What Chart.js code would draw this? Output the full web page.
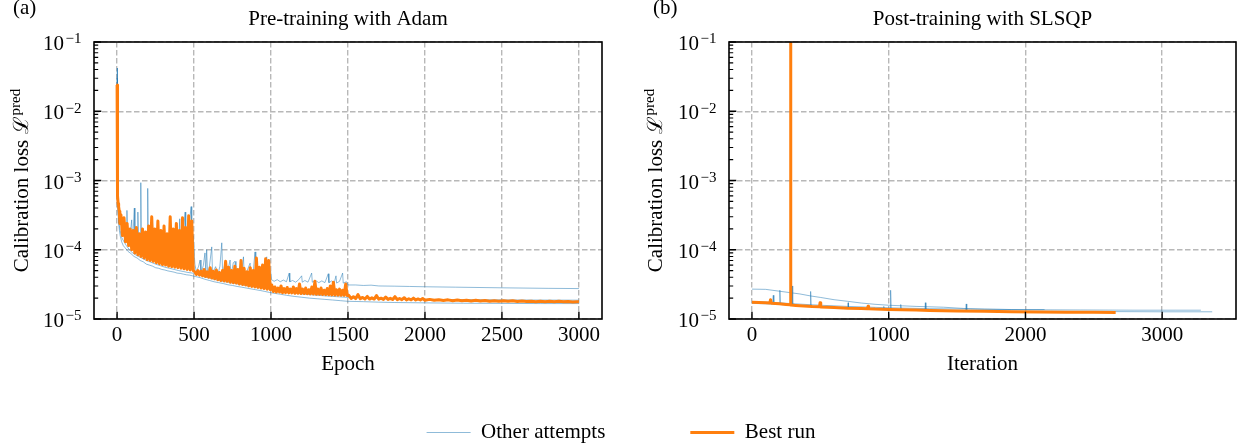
<!DOCTYPE html>
<html>
<head>
<meta charset="utf-8">
<script src="https://cdn.jsdelivr.net/npm/chart.js@4/dist/chart.umd.min.js"></script>
<style>
html,body{margin:0;padding:0;background:#fff;}
#wrap{position:relative;width:1242px;height:448px;overflow:hidden;background:#fff;}
canvas{position:absolute;}
</style>
</head>
<body>
<div id="wrap">
<canvas id="panelA" width="621" height="400" style="left:0;top:0;width:621px;height:400px"></canvas>
<canvas id="panelB" width="621" height="400" style="left:621px;top:0;width:621px;height:400px"></canvas>
<canvas id="legendC" width="1242" height="111" style="left:0;top:337px;width:1242px;height:111px"></canvas>
</div>
<script>
// ---------------- DATA ----------------
const panelTitles = ['Pre-training with Adam', 'Post-training with SLSQP'];
const panelTags = ['(a)', '(b)'];
const xTitles = ['Epoch', 'Iteration'];
const yTitleText = 'Calibration loss ';
const yTitleSymbol = '\u2112';
const yTitleSup = 'pred';
const seriesLabels = ['Other attempts', 'Best run'];

const xTicksA = [0, 500, 1000, 1500, 2000, 2500, 3000];
const xTickLabelsA = ['0', '500', '1000', '1500', '2000', '2500', '3000'];
const xTicksB = [0, 1000, 2000, 3000];
const xTickLabelsB = ['0', '1000', '2000', '3000'];
const yDecades = [1e-5, 1e-4, 1e-3, 1e-2, 1e-1];
const yTickBase = '10';
const yTickExp = ['\u22125', '\u22124', '\u22123', '\u22122', '\u22121'];
const yMinorSubs = [2, 3, 4, 5, 6, 7, 8, 9];

// Panel (a): best run, [epoch, loss]
const bestRunA = [
[0,2.4e-2],[1,6.0e-3],[2,2.2e-3],[3,1.1e-3],[5,6.0e-4],[7,4.6e-4],[10,4.2e-4],[14,3.6e-4],[18,2.4e-4],
[25,3.2e-4],[35,1.6e-4],[45,2.9e-4],[55,1.3e-4],[65,2.4e-4],[75,1.15e-4],[85,2.0e-4],[95,1.0e-4],[105,1.9e-4],[115,9.0e-5],
[125,2.1e-4],[135,8.5e-5],[145,1.7e-4],[155,8.0e-5],[165,2.0e-4],[175,7.6e-5],[185,1.8e-4],[195,7.2e-5],[205,2.2e-4],[215,7.0e-5],
[225,3.0e-4],[235,6.8e-5],[245,2.0e-4],[255,6.5e-5],[265,2.6e-4],[275,6.3e-5],[285,1.9e-4],[295,6.1e-5],[305,2.2e-4],[315,6.0e-5],
[325,1.7e-4],[335,5.8e-5],[345,3.0e-4],[355,5.7e-5],[365,2.0e-4],[375,5.6e-5],[385,2.4e-4],[395,5.5e-5],[405,1.9e-4],[415,5.4e-5],
[425,2.9e-4],[435,5.3e-5],[445,2.1e-4],[455,5.2e-5],[465,3.1e-4],[475,5.1e-5],[485,2.6e-4],[495,5.0e-5],
[505,4.8e-5],[515,4.4e-5],[525,5.0e-5],[535,4.3e-5],[545,4.9e-5],[555,4.2e-5],[565,5.2e-5],[575,4.1e-5],[585,4.8e-5],[595,4.0e-5],
[605,5.5e-5],[615,3.9e-5],[625,4.9e-5],[635,3.8e-5],[645,5.1e-5],[655,3.7e-5],[665,4.7e-5],[675,3.6e-5],[685,5.0e-5],[695,3.55e-5],
[705,6.8e-5],[715,3.5e-5],[725,5.6e-5],[735,3.4e-5],[745,5.0e-5],[755,3.35e-5],[765,5.8e-5],[775,3.3e-5],[785,5.2e-5],[795,3.2e-5],
[805,7.0e-5],[815,3.15e-5],[825,5.4e-5],[835,3.1e-5],[845,4.8e-5],[855,3.0e-5],[865,5.5e-5],[875,2.95e-5],[885,5.0e-5],[895,2.9e-5],
[905,7.6e-5],[915,2.85e-5],[925,5.6e-5],[935,2.8e-5],[945,6.0e-5],[955,2.75e-5],[965,7.4e-5],[975,2.7e-5],[985,7.0e-5],[995,2.65e-5],
[1005,3.1e-5],[1015,2.5e-5],[1025,2.9e-5],[1035,2.45e-5],[1045,2.8e-5],[1055,2.45e-5],[1065,3.0e-5],[1075,2.4e-5],[1085,2.75e-5],[1095,2.4e-5],
[1105,2.85e-5],[1115,2.38e-5],[1125,2.7e-5],[1135,2.38e-5],[1145,2.9e-5],[1155,2.36e-5],[1165,2.75e-5],[1175,2.35e-5],[1185,3.2e-5],[1195,2.34e-5],
[1205,2.7e-5],[1215,2.33e-5],[1225,2.8e-5],[1235,2.32e-5],[1245,2.65e-5],[1255,2.3e-5],[1265,2.9e-5],[1275,2.3e-5],[1285,3.5e-5],[1295,2.28e-5],
[1305,2.7e-5],[1315,2.28e-5],[1325,2.8e-5],[1335,2.26e-5],[1345,2.6e-5],[1355,2.25e-5],[1365,2.75e-5],[1375,2.24e-5],[1385,3.0e-5],[1395,2.23e-5],
[1405,3.4e-5],[1415,2.22e-5],[1425,2.65e-5],[1435,2.21e-5],[1445,2.7e-5],[1455,2.2e-5],[1465,2.6e-5],[1475,2.19e-5],[1485,3.2e-5],[1495,2.18e-5],
[1505,2.2e-5],[1520,1.98e-5],[1535,2.1e-5],[1550,1.97e-5],[1565,2.25e-5],[1580,1.96e-5],[1595,2.05e-5],[1610,1.95e-5],[1625,2.12e-5],[1640,1.94e-5],
[1655,2.02e-5],[1670,1.94e-5],[1685,2.18e-5],[1700,1.93e-5],[1715,2.0e-5],[1730,1.92e-5],[1745,2.08e-5],[1760,1.92e-5],[1775,1.99e-5],[1790,1.91e-5],
[1805,2.1e-5],[1820,1.9e-5],[1835,1.98e-5],[1850,1.9e-5],[1865,2.03e-5],[1880,1.89e-5],[1895,1.96e-5],[1910,1.89e-5],[1925,2.0e-5],[1940,1.88e-5],
[1955,1.95e-5],[1970,1.88e-5],[1985,1.98e-5],[2000,1.87e-5],
[2030,1.92e-5],[2060,1.86e-5],[2090,1.9e-5],[2120,1.85e-5],[2150,1.89e-5],[2180,1.84e-5],[2210,1.88e-5],[2240,1.83e-5],[2270,1.87e-5],[2300,1.82e-5],
[2330,1.86e-5],[2360,1.82e-5],[2390,1.85e-5],[2420,1.81e-5],[2450,1.84e-5],[2480,1.8e-5],[2510,1.83e-5],[2540,1.8e-5],[2570,1.83e-5],[2600,1.79e-5],
[2630,1.82e-5],[2660,1.79e-5],[2690,1.81e-5],[2720,1.78e-5],[2750,1.81e-5],[2780,1.78e-5],[2810,1.8e-5],[2840,1.77e-5],[2870,1.8e-5],[2900,1.77e-5],
[2930,1.79e-5],[2960,1.76e-5],[2990,1.78e-5],[3000,1.77e-5]
];

// Panel (a): other attempts
const otherA1 = [
[0,4.2e-2],[1,1.0e-2],[2,3.2e-3],[3,1.6e-3],[5,7.5e-4],[8,4.8e-4],[12,3.6e-4],[16,3.1e-4],[20,2.5e-4],[30,2.2e-4],
[40,1.8e-4],[50,2.3e-4],[60,1.5e-4],[64,3.7e-4],[68,1.4e-4],[80,1.3e-4],[95,2.7e-4],[100,1.2e-4],[112,4.0e-4],[116,1.1e-4],
[130,1.3e-4],[135,3.5e-4],[140,1.05e-4],[150,1.1e-4],[154,9.3e-4],[158,1.0e-4],[175,1.6e-4],[185,9.5e-5],[195,1.2e-4],[199,7.7e-4],
[203,9.0e-5],[220,1.5e-4],[240,8.5e-5],[255,1.7e-4],[268,2.5e-4],[275,8.0e-5],[300,1.6e-4],[320,7.5e-5],[345,1.8e-4],[365,7.2e-5],
[386,2.1e-4],[395,7.0e-5],[407,2.8e-4],[412,7.0e-5],[430,1.7e-4],[442,3.5e-4],[446,6.8e-5],[465,2.0e-4],[481,4.2e-4],[485,6.6e-5],[495,1.6e-4],
[505,6.2e-5],[515,4.8e-5],[530,5.8e-5],[539,7.1e-5],[545,4.6e-5],[560,5.9e-5],[571,9.0e-5],[576,4.6e-5],[582,1.0e-4],[588,4.5e-5],
[600,5.8e-5],[615,1.1e-4],[620,4.5e-5],[640,5.7e-5],[655,4.4e-5],[668,5.8e-5],[680,1.26e-4],[686,4.3e-5],[702,6.6e-5],[712,4.2e-5],
[734,7.1e-5],[740,4.2e-5],[755,6.5e-5],[766,6.8e-5],[772,4.1e-5],[790,5.2e-5],[805,4.1e-5],[821,7.9e-5],[826,4.0e-5],[845,5.0e-5],
[864,6.4e-5],[870,4.0e-5],[885,5.0e-5],[896,9.3e-5],[901,3.9e-5],[920,5.0e-5],[940,3.9e-5],[955,5.1e-5],[972,7.9e-5],[977,3.8e-5],[990,5.0e-5],[998,4.8e-5],
[1003,3.7e-5],[1020,3.5e-5],[1040,3.7e-5],[1060,3.45e-5],[1080,3.65e-5],[1100,3.45e-5],[1118,4.6e-5],[1122,3.45e-5],[1140,3.6e-5],[1160,3.4e-5],
[1180,3.7e-5],[1199,4.2e-5],[1203,3.4e-5],[1220,3.6e-5],[1240,3.4e-5],[1264,4.6e-5],[1268,3.4e-5],[1290,3.6e-5],[1310,3.35e-5],[1330,3.55e-5],
[1350,3.35e-5],[1372,4.5e-5],[1376,3.35e-5],[1395,3.55e-5],[1410,3.3e-5],[1422,4.2e-5],[1426,3.3e-5],[1445,3.5e-5],[1465,4.6e-5],[1469,3.3e-5],
[1490,3.45e-5],[1500,3.1e-5],[1550,3.1e-5],[1600,3.05e-5],[1650,3.08e-5],[1700,3.0e-5],[1800,2.98e-5],[1900,2.95e-5],[2000,2.92e-5],
[2200,2.88e-5],[2500,2.82e-5],[2800,2.77e-5],[3000,2.75e-5]
];
const otherA2 = [
[0,3.0e-2],[1,5.0e-3],[2,1.5e-3],[4,6.0e-4],[7,3.2e-4],[10,2.4e-4],[15,1.9e-4],[20,1.6e-4],[30,1.3e-4],[40,1.15e-4],
[50,1.08e-4],[70,9.5e-5],[90,8.8e-5],[110,8.0e-5],[130,7.6e-5],[150,7.0e-5],[170,6.7e-5],[190,6.2e-5],[210,6.0e-5],[230,5.8e-5],
[250,5.5e-5],[270,5.4e-5],[290,5.2e-5],[310,5.1e-5],[330,4.95e-5],[350,4.85e-5],[370,4.75e-5],[390,4.6e-5],[410,4.55e-5],[430,4.45e-5],
[450,4.35e-5],[470,4.3e-5],[490,4.2e-5],[510,4.1e-5],[540,3.95e-5],[570,3.75e-5],[600,3.6e-5],[630,3.45e-5],[660,3.35e-5],[690,3.25e-5],
[720,3.12e-5],[750,3.05e-5],[780,2.95e-5],[810,2.88e-5],[840,2.8e-5],[870,2.72e-5],[900,2.65e-5],[930,2.58e-5],[960,2.5e-5],[990,2.42e-5],
[1020,2.35e-5],[1060,2.28e-5],[1100,2.2e-5],[1150,2.12e-5],[1200,2.06e-5],[1250,2.0e-5],[1300,1.96e-5],[1350,1.92e-5],[1400,1.88e-5],[1450,1.84e-5],
[1500,1.8e-5],[1600,1.78e-5],[1700,1.75e-5],[1800,1.73e-5],[2000,1.71e-5],[2250,1.69e-5],[2500,1.68e-5],[2750,1.67e-5],[3000,1.67e-5]
];
const otherA3 = [
[0,1.5e-2],[1,4.0e-3],[2,1.2e-3],[4,5.0e-4],[7,3.5e-4],[10,2.8e-4],[15,2.2e-4],[20,1.9e-4],[30,1.5e-4],[45,1.3e-4],
[60,1.15e-4],[80,1.0e-4],[100,9.0e-5],[130,8.2e-5],[160,7.6e-5],[190,7.0e-5],[220,6.6e-5],[250,6.2e-5],[280,5.9e-5],[310,5.6e-5],
[340,5.4e-5],[370,5.2e-5],[400,5.0e-5],[430,4.85e-5],[460,4.7e-5],[490,4.6e-5],[520,4.4e-5],[560,4.1e-5],[600,3.9e-5],[650,3.65e-5],
[700,3.45e-5],[750,3.3e-5],[800,3.15e-5],[850,3.0e-5],[900,2.9e-5],[950,2.8e-5],[1000,2.7e-5],[1050,2.55e-5],[1100,2.45e-5],[1200,2.3e-5],
[1300,2.2e-5],[1400,2.12e-5],[1500,2.05e-5],[1600,2.0e-5],[1800,1.95e-5],[2000,1.92e-5],[2300,1.9e-5],[2600,1.88e-5],[3000,1.87e-5]
];

// Panel (b): best run, [iteration, loss]
const bestRunB = [
[0,1.74e-5],[50,1.73e-5],[100,1.71e-5],[130,1.7e-5],[136,1.9e-5],[142,1.69e-5],[200,1.66e-5],[250,1.62e-5],[279,1.6e-5],[282,0.3],
[285,1.59e-5],[320,1.57e-5],[380,1.54e-5],[440,1.51e-5],[494,1.5e-5],[498,1.72e-5],[503,1.49e-5],[600,1.46e-5],[700,1.43e-5],[800,1.42e-5],
[845,1.41e-5],[849,1.53e-5],[853,1.41e-5],[900,1.39e-5],[1000,1.37e-5],[1100,1.36e-5],[1200,1.35e-5],[1300,1.33e-5],[1400,1.32e-5],[1500,1.31e-5],
[1700,1.29e-5],[1900,1.27e-5],[2100,1.26e-5],[2300,1.25e-5],[2500,1.25e-5],[2660,1.24e-5]
];
// Panel (b): other attempts
const otherB1 = [
[0,2.7e-5],[100,2.68e-5],[200,2.52e-5],[280,2.4e-5],[350,2.3e-5],[430,2.15e-5],[500,2.05e-5],[600,1.9e-5],[700,1.8e-5],[800,1.7e-5],
[900,1.63e-5],[1000,1.58e-5],[1100,1.55e-5],[1200,1.52e-5],[1400,1.48e-5],[1550,1.42e-5],[1700,1.39e-5],[2000,1.36e-5],[2400,1.35e-5],
[2800,1.34e-5],[3100,1.34e-5],[3283,1.34e-5]
];
const otherB2 = [
[0,1.68e-5],[100,1.66e-5],[150,1.64e-5],[156,2.2e-5],[160,1.63e-5],[200,1.62e-5],[204,2.6e-5],[208,1.62e-5],[290,1.58e-5],[294,3.0e-5],
[298,1.58e-5],[425,1.52e-5],[429,2.5e-5],[433,1.52e-5],[600,1.47e-5],[700,1.44e-5],[703,1.72e-5],[706,1.44e-5],[960,1.39e-5],[964,1.52e-5],
[968,1.39e-5],[1010,1.38e-5],[1014,2.6e-5],[1018,1.38e-5],[1084,1.37e-5],[1088,1.62e-5],[1092,1.37e-5],[1265,1.35e-5],[1268,1.72e-5],[1272,1.35e-5],
[1563,1.32e-5],[1567,1.65e-5],[1571,1.32e-5],[1800,1.3e-5],[2200,1.29e-5],[2600,1.28e-5],[3000,1.27e-5],[3366,1.27e-5]
];
const otherB3 = [
[0,1.78e-5],[150,1.74e-5],[300,1.66e-5],[500,1.58e-5],[700,1.52e-5],[1000,1.45e-5],[1300,1.41e-5],[1600,1.39e-5],[1900,1.37e-5],[2140,1.37e-5]
];

// ---------------- STYLE ----------------
const FONT = "'Liberation Serif','Times New Roman','DejaVu Serif',serif";
const BLUE = 'rgba(31,119,180,0.5)';
const ORANGE = '#ff7f0e';
const GRID = '#b8b8b8';

const toXY = arr => arr.map(p => ({x: p[0], y: p[1]}));
function lineDs(label, arr, color, width, order) {
  return {label, data: toXY(arr), borderColor: color, backgroundColor: color, borderWidth: width,
    pointRadius: 0, pointHoverRadius: 0, tension: 0, fill: false, order,
    borderJoinStyle: 'round', borderCapStyle: 'butt'};
}

const panelDecor = {
  id: 'panelDecor',
  afterDraw(chart, args, o) {
    const ctx = chart.ctx, a = chart.chartArea, xs = chart.scales.x, ys = chart.scales.y;
    ctx.save();
    ctx.strokeStyle = '#000';
    ctx.lineWidth = 1.4;
    ctx.beginPath();
    o.xTicks.forEach(v => { const px = xs.getPixelForValue(v); ctx.moveTo(px, a.bottom); ctx.lineTo(px, a.bottom - 7.3); });
    yDecades.forEach(v => { const py = ys.getPixelForValue(v); ctx.moveTo(a.left, py); ctx.lineTo(a.left + 7.3, py); });
    ctx.stroke();
    ctx.lineWidth = 1.1;
    ctx.beginPath();
    yDecades.slice(0, -1).forEach(d => yMinorSubs.forEach(m => {
      const py = ys.getPixelForValue(d * m); ctx.moveTo(a.left, py); ctx.lineTo(a.left + 4.2, py);
    }));
    ctx.stroke();
    ctx.lineWidth = 1.6;
    ctx.strokeRect(a.left, a.top, a.right - a.left, a.bottom - a.top);
    ctx.fillStyle = '#000';
    ctx.textAlign = 'left';
    ctx.textBaseline = 'alphabetic';
    yDecades.forEach((v, i) => {
      const py = ys.getPixelForValue(v);
      const x0 = a.left - 51;
      ctx.font = '21px ' + FONT;
      ctx.fillText(yTickBase, x0, py + 8);
      const w = ctx.measureText(yTickBase).width;
      ctx.font = '15px ' + FONT;
      ctx.fillText(yTickExp[i], x0 + w + 1.5, py + 1.3);
    });
    ctx.save();
    ctx.translate(o.yTitleX, (a.top + a.bottom) / 2);
    ctx.rotate(-Math.PI / 2);
    ctx.font = '21px ' + FONT;
    const w1 = ctx.measureText(yTitleText).width;
    const w2 = ctx.measureText(yTitleSymbol).width;
    ctx.font = '15px ' + FONT;
    const w3 = ctx.measureText(yTitleSup).width;
    const start = -(w1 + w2 + w3 + 1) / 2;
    ctx.font = '21px ' + FONT;
    ctx.fillText(yTitleText, start, 0);
    ctx.fillText(yTitleSymbol, start + w1, 0);
    ctx.font = '15px ' + FONT;
    ctx.fillText(yTitleSup, start + w1 + w2 + 1, -8.5);
    ctx.restore();
    ctx.font = '21px ' + FONT;
    ctx.textAlign = 'center';
    ctx.fillText(o.title, (a.left + a.right) / 2, 25);
    ctx.textAlign = 'left';
    ctx.fillText(o.tag, o.tagX, 13.5);
    ctx.restore();
  }
};

function makePanel(id, cfg) {
  return new Chart(document.getElementById(id), {
    type: 'line',
    data: { datasets: [
      lineDs(seriesLabels[1], cfg.best, ORANGE, 3, 0),
      ...cfg.others.map(arr => lineDs(seriesLabels[0], arr, BLUE, 1, 1))
    ]},
    options: {
      responsive: false, animation: false, devicePixelRatio: 1,
      events: [],
      layout: { padding: { left: 0, right: cfg.padRight, top: 42, bottom: 0 } },
      plugins: {
        legend: { display: false }, tooltip: { enabled: false },
        panelDecor: { xTicks: cfg.xTicks, title: cfg.title, tag: cfg.tag, tagX: cfg.tagX, yTitleX: cfg.yTitleX }
      },
      scales: {
        x: {
          type: 'linear', min: cfg.xMin, max: cfg.xMax,
          afterBuildTicks: s => { s.ticks = cfg.xTicks.map(v => ({value: v})); },
          afterFit: s => { s.height = 81; },
          grid: { color: GRID, lineWidth: 1.4, drawTicks: false },
          border: { display: false, dash: [5.5, 2.5] },
          ticks: { font: { family: FONT, size: 21 }, color: '#000', padding: 4, maxRotation: 0, autoSkip: false,
                   callback: (v, i) => cfg.xTickLabels[i] },
          title: { display: true, text: cfg.xTitle, font: { family: FONT, size: 21 }, color: '#000', padding: { top: 0, bottom: 23 } }
        },
        y: {
          type: 'logarithmic', min: 1e-5, max: 1e-1,
          afterBuildTicks: s => { s.ticks = yDecades.map(v => ({value: v})); },
          afterFit: s => { s.width = cfg.yAxisWidth; },
          grid: { color: GRID, lineWidth: 1.4, drawTicks: false },
          border: { display: false, dash: [5.5, 2.5] },
          ticks: { display: false }
        }
      }
    },
    plugins: [panelDecor]
  });
}

makePanel('panelA', {
  best: bestRunA, others: [otherA1, otherA2, otherA3],
  xMin: -150, xMax: 3150, xTicks: xTicksA, xTickLabels: xTickLabelsA, xTitle: xTitles[0],
  title: panelTitles[0], tag: panelTags[0], tagX: 13, yTitleX: 28, yAxisWidth: 94, padRight: 19
});
makePanel('panelB', {
  best: bestRunB, others: [otherB1, otherB2, otherB3],
  xMin: -168, xMax: 3540, xTicks: xTicksB, xTickLabels: xTickLabelsB, xTitle: xTitles[1],
  title: panelTitles[1], tag: panelTags[1], tagX: 32, yTitleX: 41, yAxisWidth: 108, padRight: 6
});

new Chart(document.getElementById('legendC'), {
  type: 'line',
  data: { datasets: [
    { label: seriesLabels[0], data: [], borderColor: BLUE, backgroundColor: BLUE, borderWidth: 1 },
    { label: seriesLabels[1], data: [], borderColor: ORANGE, backgroundColor: ORANGE, borderWidth: 3 }
  ]},
  options: {
    responsive: false, animation: false, devicePixelRatio: 1, events: [],
    layout: { padding: 0 },
    scales: { x: { display: false }, y: { display: false } },
    plugins: {
      tooltip: { enabled: false },
      legend: { display: true, position: 'top', maxHeight: 400,
        labels: { usePointStyle: true, pointStyle: 'line', pointStyleWidth: 44, padding: 85, color: '#000',
                  font: { family: FONT, size: 21 } } }
    }
  }
});
</script>
</body>
</html>
